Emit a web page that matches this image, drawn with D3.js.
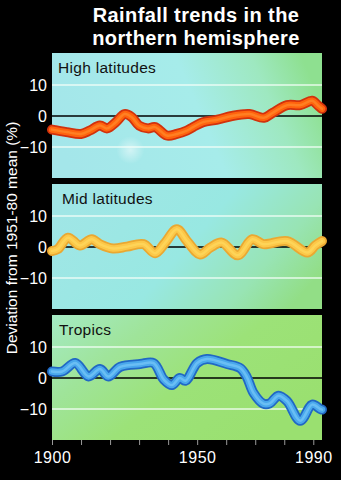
<!DOCTYPE html>
<html><head><meta charset="utf-8">
<script src="https://cdn.jsdelivr.net/npm/d3@7"></script>
<style>html,body{margin:0;padding:0;background:#000;}svg{display:block;}</style>
</head><body>
<script>
// ---- data ----
const titleLines = ["Rainfall trends in the", "northern hemisphere"];
const yAxisTitle = "Deviation from 1951-80 mean (%)";
const panelNames = ["High latitudes", "Mid latitudes", "Tropics"];
const yTicks = [10, 0, -10];
const xTickYears = [1900, 1910, 1920, 1930, 1940, 1950, 1960, 1970, 1980, 1990];
const xTickLabels = [1900, 1950, 1990];

const highYears  = [1900, 1905, 1910, 1913, 1916.5, 1919, 1922, 1925, 1927.5, 1930, 1933, 1935.5, 1939.5, 1943, 1946.5, 1948.6, 1952, 1957, 1962, 1968, 1973, 1976, 1981, 1985.5, 1989.6, 1991.7, 1993];
const highValues = [-4.4, -5.2, -5.8, -4.7, -3.1, -4.0, -2.0, 0.6, -0.4, -3.1, -4.0, -3.6, -6.3, -5.8, -4.7, -3.6, -2.0, -1.2, 0.0, 0.6, -0.6, 1.0, 3.5, 3.5, 4.9, 3.3, 2.3];

const midYears  = [1900, 1902, 1905.5, 1909.6, 1913.7, 1916.5, 1921, 1925.8, 1931.5, 1935.5, 1939, 1943, 1946.5, 1951, 1954.5, 1958.5, 1964, 1969, 1972.8, 1981, 1988, 1990.7, 1993];
const midValues = [-1.3, -0.7, 3.0, 0.5, 2.5, 0.9, -0.5, 0.1, 0.9, -2.0, 1.4, 5.7, 1.9, -2.4, -0.2, 1.4, -2.7, 2.5, 0.9, 1.9, -1.8, 0.5, 1.9];

const tropYears  = [1900, 1903.5, 1908, 1912.6, 1916.5, 1919.4, 1923.5, 1930.4, 1935, 1938.5, 1941.3, 1944, 1946, 1950, 1953.4, 1960.3, 1964.8, 1967, 1969.4, 1972.8, 1975, 1978, 1981, 1985.5, 1989.6, 1992.4, 1993];
const tropValues = [2.1, 2.1, 4.8, 0.5, 2.9, 0.5, 3.6, 4.5, 4.8, -0.5, -2.3, 0.0, -0.9, 4.8, 6.1, 4.5, 3.2, 0.5, -4.8, -8.3, -8.2, -5.7, -7.5, -13.8, -8.6, -10.0, -10.2];

// ---- layout ----
const W = 341, H = 480;
const left = 52, right = 322;
const panelTops = [53, 184, 315];
const panelH = 125;
const yDomain = [-20, 20.3];
const FONT = "Liberation Sans, Arial, Helvetica, sans-serif";

const svg = d3.select("body").append("svg").attr("width", W).attr("height", H);
svg.append("rect").attr("width", W).attr("height", H).attr("fill", "#000");

const defs = svg.append("defs");
const grads = [
  {dir: [0, 0.6, 1, 0.4], stops: [[0, "#a4e6ea"], [0.55, "#a6ecea"], [0.82, "#9ee8c0"], [1, "#8ee090"]]},
  {dir: [0, 0.3, 1, 0.7], stops: [[0, "#a0e6e6"], [0.5, "#98e8e2"], [0.8, "#98e4b4"], [1, "#92de86"]]},
  {dir: [0, 0, 1, 0.6], stops: [[0, "#a4eac4"], [0.3, "#9fe49a"], [0.6, "#9ce278"], [1, "#9ae070"]]}
];
grads.forEach((g, i) => {
  const lg = defs.append("linearGradient").attr("id", "bg" + i)
    .attr("x1", g.dir[0]).attr("y1", g.dir[1]).attr("x2", g.dir[2]).attr("y2", g.dir[3]);
  g.stops.forEach(s => lg.append("stop").attr("offset", s[0]).attr("stop-color", s[1]));
});
const rg = defs.append("radialGradient").attr("id", "glow");
rg.append("stop").attr("offset", 0).attr("stop-color", "#ffffff").attr("stop-opacity", 0.5);
rg.append("stop").attr("offset", 1).attr("stop-color", "#ffffff").attr("stop-opacity", 0);
const blur = defs.append("filter").attr("id", "soft").attr("x", "-5%").attr("y", "-20%").attr("width", "110%").attr("height", "140%");
blur.append("feGaussianBlur").attr("stdDeviation", 0.6);

const x = d3.scaleLinear().domain([1900, 1993]).range([left, right]);

const series = [
  {years: highYears, values: highValues, edge: "#d2300a", core: "#ff6410", hi: "#ff8a2a"},
  {years: midYears, values: midValues, edge: "#eaa832", core: "#fcc848", hi: "#ffd860"},
  {years: tropYears, values: tropValues, edge: "#2068c4", core: "#4aa8ec", hi: "#78c8f8"}
];

// title
svg.append("g").selectAll("text").data(titleLines).join("text")
  .attr("x", 196).attr("y", (d, i) => 22 + i * 23)
  .attr("text-anchor", "middle").attr("fill", "#fff")
  .attr("font-family", FONT).attr("font-weight", "bold")
  .attr("font-size", 20).attr("letter-spacing", 0.4).text(d => d);

// y title
svg.append("text")
  .attr("transform", "translate(17,238) rotate(-90)")
  .attr("text-anchor", "middle").attr("fill", "#fff")
  .attr("font-family", FONT).attr("font-size", 15.5)
  .text(yAxisTitle);

const labelX = [58, 62, 59];

panelTops.forEach((top, i) => {
  const y = d3.scaleLinear().domain(yDomain).range([top + panelH, top]);
  const g = svg.append("g");
  g.append("rect").attr("x", left).attr("y", top).attr("width", right - left).attr("height", panelH)
    .attr("fill", `url(#bg${i})`);
  if (i === 0) {
    g.append("circle").attr("cx", x(1927)).attr("cy", y(-11)).attr("r", 14).attr("fill", "url(#glow)");
  }
  // gridlines
  g.selectAll(".grid").data(yTicks.filter(t => t !== 0)).join("line")
    .attr("x1", left).attr("x2", right).attr("y1", d => y(d)).attr("y2", d => y(d))
    .attr("stroke", "#f4fff8").attr("stroke-opacity", 0.85).attr("stroke-width", 1.5);
  g.append("line").attr("x1", left).attr("x2", right).attr("y1", y(0)).attr("y2", y(0))
    .attr("stroke", "#000").attr("stroke-width", 1.5);
  // y tick labels
  const ax = d3.axisLeft(y).tickValues(yTicks).tickSize(0).tickPadding(5)
    .tickFormat(d => d < 0 ? "\u2212" + Math.abs(d) : d);
  const axg = svg.append("g").attr("transform", `translate(${left},0)`).call(ax);
  axg.select(".domain").remove();
  axg.selectAll("text").attr("fill", "#fff").attr("font-size", 16)
    .attr("font-family", FONT);
  // panel label
  g.append("text").attr("x", labelX[i]).attr("y", top + 20)
    .attr("fill", "#111").attr("font-size", 15.5).attr("letter-spacing", 0.3)
    .attr("font-family", FONT).text(panelNames[i]);
  // line
  const s = series[i];
  const pts = s.years.map((yr, k) => [yr, s.values[k]]);
  const line = d3.line().x(d => x(d[0])).y(d => y(d[1])).curve(d3.curveCatmullRom.alpha(0.5));
  const lg = g.append("g").attr("filter", "url(#soft)");
  lg.append("path").attr("d", line(pts)).attr("fill", "none").attr("stroke", s.edge)
    .attr("stroke-width", 10).attr("stroke-linecap", "round").attr("stroke-linejoin", "round");
  lg.append("path").attr("d", line(pts)).attr("fill", "none").attr("stroke", s.core)
    .attr("stroke-width", 6.5).attr("stroke-linecap", "round").attr("stroke-linejoin", "round");
  lg.append("path").attr("d", line(pts)).attr("fill", "none").attr("stroke", s.hi)
    .attr("stroke-width", 2.5).attr("stroke-opacity", 0.7).attr("stroke-linecap", "round").attr("stroke-linejoin", "round");
});

// x axis
const bottom = panelTops[2] + panelH;
const xa = d3.axisBottom(x).tickValues(xTickYears).tickSize(5).tickPadding(7)
  .tickFormat(d => xTickLabels.includes(d) ? d : "");
const xg = svg.append("g").attr("transform", `translate(0,${bottom})`).call(xa);
xg.select(".domain").remove();
xg.selectAll("line").attr("stroke", "#999");
xg.selectAll("text").attr("fill", "#fff").attr("font-size", 16).attr("letter-spacing", 0.5)
  .attr("font-family", FONT);
</script>
</body></html>
